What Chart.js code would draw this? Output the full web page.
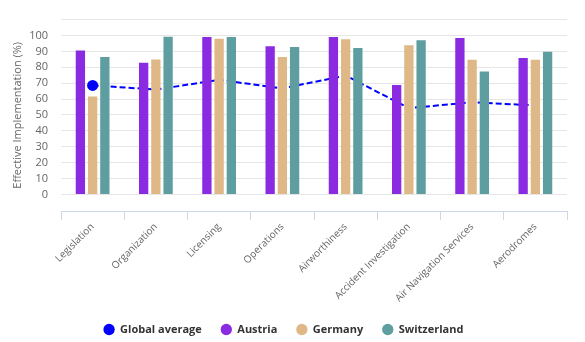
<!DOCTYPE html>
<html lang="en">
<head>
    <meta charset="UTF-8">
    <title>Effective Implementation</title>
    <script src="https://cdn.jsdelivr.net/npm/chart.js"></script>
    <style>
        html, body { margin: 0; padding: 0; background: #fff; }
        #wrap { width: 585px; height: 342px; }
    </style>
</head>
<body>
    <div id="wrap"><canvas id="eiChart"></canvas></div>

    <script>
        // Audit areas and EI scores (%)
        var categories = ['Legislation', 'Organization', 'Licensing', 'Operations', 'Airworthiness',
            'Accident Investigation', 'Air Navigation Services', 'Aerodromes'];
        var globalAverage = [68.6, 66.0, 72.1, 66.7, 74.8, 54.3, 58.0, 56.0];
        var austria = [90.6, 82.8, 99.1, 93.2, 99.1, 68.8, 98.4, 85.8];
        var germany = [61.6, 84.9, 98.0, 86.4, 97.6, 93.8, 84.8, 84.8];
        var switzerland = [86.4, 99.2, 99.1, 92.8, 92.2, 97.0, 77.4, 89.8];
        var yTicks = [0, 10, 20, 30, 40, 50, 60, 70, 80, 90, 100, 110];

        var axisFont = { family: '"Open Sans", sans-serif', size: 11 };

        // only the first point of the average line gets a marker
        var avgRadius = globalAverage.map(function (v, i) { return i === 0 ? 5.5 : 0; });

        function barSet(label, data, color) {
            return {
                type: 'bar',
                label: label,
                data: data,
                backgroundColor: color,
                borderWidth: 0,
                categoryPercentage: 0.58,
                barPercentage: 0.76,
                pointStyle: 'circle',
                order: 1
            };
        }

        var ctx = document.getElementById('eiChart').getContext('2d');
        var myChart = new Chart(ctx, {
            type: 'bar',
            data: {
                labels: categories,
                datasets: [
                    {
                        type: 'line',
                        label: 'Global average',
                        data: globalAverage,
                        borderColor: '#0000ff',
                        backgroundColor: '#0000ff',
                        borderWidth: 2,
                        borderDash: [6, 3],
                        pointRadius: avgRadius,
                        pointBackgroundColor: '#0000ff',
                        pointBorderWidth: 0,
                        pointStyle: 'circle',
                        tension: 0,
                        fill: false,
                        order: 2 // drawn behind the bars
                    },
                    barSet('Austria', austria, '#8a2be2'),
                    barSet('Germany', germany, '#deb887'),
                    barSet('Switzerland', switzerland, '#5f9ea0')
                ]
            },
            options: {
                responsive: true,
                maintainAspectRatio: false,
                animation: false,
                events: [],
                layout: { padding: { top: 10, right: 18, bottom: -3, left: 0 } },
                scales: {
                    x: {
                        offset: true,
                        grid: {
                            offset: true,
                            drawOnChartArea: false,
                            drawTicks: true,
                            tickLength: 9,
                            color: '#ccd6eb'
                        },
                        border: { color: '#ccd6eb' },
                        ticks: {
                            color: '#666',
                            font: { family: '"Open Sans", sans-serif', size: 10 },
                            minRotation: 45,
                            maxRotation: 45,
                            padding: 1,
                            autoSkip: false
                        },
                        afterFit: function (scale) { scale.height = 94; }
                    },
                    y: {
                        min: -10.4,
                        max: 110,
                        afterBuildTicks: function (scale) {
                            scale.ticks = yTicks.map(function (v) { return { value: v }; });
                        },
                        ticks: {
                            color: '#666',
                            font: axisFont,
                            padding: 13,
                            callback: function (v) { return v > 100 ? '' : v; }
                        },
                        grid: { color: '#e6e6e6', drawTicks: false },
                        border: { display: false },
                        title: {
                            display: true,
                            text: 'Effective Implementation (%)',
                            color: '#666',
                            font: axisFont,
                            padding: { top: 11, bottom: 0 }
                        },
                        afterFit: function (scale) { scale.width = 61; }
                    }
                },
                plugins: {
                    tooltip: { enabled: false },
                    legend: {
                        position: 'bottom',
                        labels: {
                            usePointStyle: true,
                            boxWidth: 14,
                            boxHeight: 8,
                            padding: 19,
                            color: '#333',
                            font: { family: '"Open Sans", sans-serif', size: 11, weight: 'bold' },
                            sort: function (a, b) { return a.datasetIndex - b.datasetIndex; },
                            generateLabels: function (chart) {
                                var items = Chart.defaults.plugins.legend.labels.generateLabels(chart);
                                items.forEach(function (it) {
                                    it.lineWidth = 0;
                                    it.lineDash = [];
                                });
                                return items;
                            }
                        }
                    }
                }
            }
        });
    </script>
</body>
</html>
